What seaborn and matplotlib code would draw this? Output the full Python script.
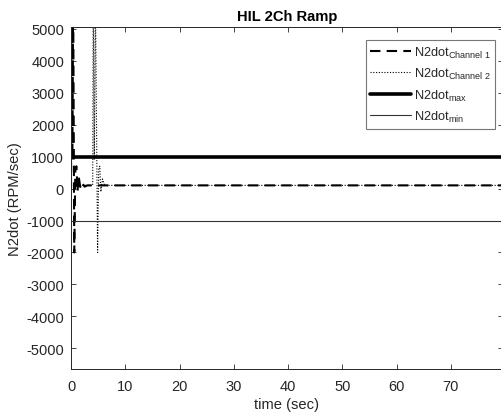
import matplotlib
matplotlib.use("Agg")
import matplotlib.pyplot as plt
import seaborn as sns
import pandas as pd

# Channel 1 transient near start-up, then steady state
ch1_time = [0.0, 0.1, 0.25, 0.4, 0.6, 0.8, 1.0, 1.2, 1.4, 1.7, 2.0, 2.5, 3.0, 80.0]
ch1_rate = [0, 6000, 900, 6000, -2000, 600, 700, -100, 400, 50, 200, 60, 100, 100]

# Channel 2 transient when it comes on line
ch2_time = [0.0, 4.0, 4.1, 4.3, 4.5, 4.9, 5.1, 5.3, 5.5, 5.8, 6.2, 80.0]
ch2_rate = [100, 100, 6000, 900, 6000, -2000, 600, 700, -100, 300, 100, 100]

# Rate limits
limit_time = [0.0, 80.0]
n2dot_max = [1000, 1000]
n2dot_min = [-1000, -1000]

x_ticks = [0, 10, 20, 30, 40, 50, 60, 70]
y_ticks = [-5000, -4000, -3000, -2000, -1000, 0, 1000, 2000, 3000, 4000, 5000]

sns.set_theme(style="ticks")
plt.rcParams["font.family"] = ["Liberation Sans", "DejaVu Sans"]
plt.rcParams["mathtext.default"] = "regular"
plt.rcParams["axes.unicode_minus"] = False

axis_color = "#262626"

fig = plt.figure(figsize=(5.01, 4.14), dpi=100)
ax = fig.add_axes([71 / 501, 44 / 414, 432 / 501, 342 / 414])

ch1 = pd.DataFrame({"t": ch1_time, "v": ch1_rate})
ch2 = pd.DataFrame({"t": ch2_time, "v": ch2_rate})
lim = pd.DataFrame({"t": limit_time, "hi": n2dot_max, "lo": n2dot_min})

sns.lineplot(data=ch1, x="t", y="v", ax=ax, color="black", linewidth=1.5,
             linestyle=(0, (5, 3)), estimator=None, sort=False,
             label=r"N2dot$_{Channel\ 1}$")
sns.lineplot(data=ch2, x="t", y="v", ax=ax, color="black", linewidth=0.8,
             linestyle=(0, (1, 1.5)), estimator=None, sort=False,
             label=r"N2dot$_{Channel\ 2}$")
sns.lineplot(data=lim, x="t", y="hi", ax=ax, color="black", linewidth=2.6,
             estimator=None, label=r"N2dot$_{max}$")
sns.lineplot(data=lim, x="t", y="lo", ax=ax, color="#333333", linewidth=0.8,
             estimator=None, label=r"N2dot$_{min}$")

ax.set_xlim(0, 79.6)
ax.set_ylim(-5650, 5060)
ax.set_xticks(x_ticks)
ax.set_yticks(y_ticks)
ax.tick_params(direction="in", length=3.5, width=0.6, colors=axis_color,
               labelsize=10.5, top=True, right=True, pad=5)
ax.tick_params(axis="x", pad=7)
for s in ax.spines.values():
    s.set_color(axis_color)
    s.set_linewidth(0.7)

ax.set_title("HIL 2Ch Ramp", fontsize=10.6, fontweight="bold", color="black", pad=5)
ax.set_xlabel("time (sec)", fontsize=10.6, color=axis_color, labelpad=3)
ax.set_ylabel("N2dot (RPM/sec)", fontsize=10.6, color=axis_color, labelpad=3)

leg = ax.legend(loc="upper right", bbox_to_anchor=(495 / 501, 1 - 41 / 414),
                bbox_transform=fig.transFigure, fontsize=9.2, frameon=True,
                fancybox=False, handlelength=3.2, handletextpad=0.2,
                borderpad=0.35, labelspacing=0.5, borderaxespad=0)
leg.get_frame().set_edgecolor("#555555")
leg.get_frame().set_linewidth(0.8)
for t in leg.get_texts():
    t.set_color(axis_color)

fig.savefig("out.png", dpi=100)
